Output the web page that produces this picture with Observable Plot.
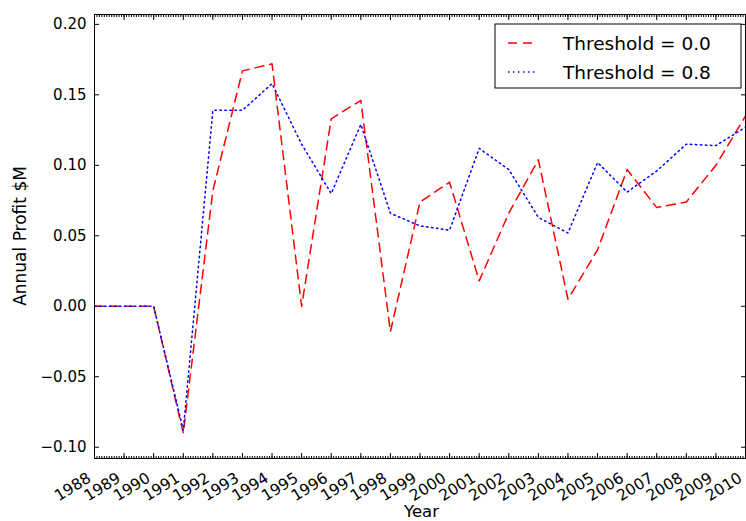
<!DOCTYPE html>
<html><head><meta charset="utf-8">
<script src="https://cdn.jsdelivr.net/npm/d3@7"></script>
<script src="https://cdn.jsdelivr.net/npm/@observablehq/plot@0.6"></script>
<style>body{margin:0;background:#fff;} svg{display:block}</style>
</head><body><div id="chart"></div>
<script>
const years = [1988,1989,1990,1991,1992,1993,1994,1995,1996,1997,1998,1999,2000,2001,2002,2003,2004,2005,2006,2007,2008,2009,2010];
const threshold00 = [0,0,0,-0.090,0.082,0.167,0.172,0.000,0.133,0.146,-0.018,0.074,0.088,0.018,0.066,0.104,0.005,0.040,0.097,0.070,0.074,0.100,0.135];
const threshold08 = [0,0,0,-0.088,0.139,0.139,0.158,0.115,0.080,0.129,0.066,0.057,0.054,0.112,0.097,0.063,0.052,0.102,0.081,0.096,0.115,0.114,0.127];
const seriesNames = ["Threshold = 0.0", "Threshold = 0.8"];
const yTicks = [-0.10,-0.05,0,0.05,0.10,0.15,0.20];
const xLabel = "Year";
const yLabel = "Annual Profit $M";

const rows0 = years.map((y,i)=>({year:y, value:threshold00[i], series:seriesNames[0]}));
const rows8 = years.map((y,i)=>({year:y, value:threshold08[i], series:seriesNames[1]}));
const minor = d3.range(0, (years[years.length-1]-years[0])*12+1).map(k => years[0] + k/12);

const W=746, H=521, ml=94, mr=1, mt=14, mb=63;
const redStyle = {stroke:"#ff0000", strokeWidth:1.5, strokeDasharray:"9,6"};
const blueStyle = {stroke:"#0000ff", strokeWidth:1.5, strokeDasharray:"1.5,3.5"};

const chart = Plot.plot({
  width:W, height:H, marginLeft:ml, marginRight:mr, marginTop:mt, marginBottom:mb,
  style:{fontFamily:"DejaVu Sans", fontSize:"15px", background:"white", color:"black", overflow:"visible"},
  x:{domain:[1988,2010]},
  y:{domain:[-0.108,0.207]},
  marks:[
    Plot.axisX(minor, {anchor:"bottom", tickSize:-2, tickFormat:()=>"", label:null}),
    Plot.axisX(minor, {anchor:"top", tickSize:-2, tickFormat:()=>"", label:null}),
    Plot.axisX(years, {anchor:"bottom", tickSize:-5, tickFormat:()=>"", label:null}),
    Plot.axisX(years, {anchor:"bottom", tickSize:0, tickPadding:18, tickRotate:-32, dx:-5, tickFormat:d=>String(d), label:null, fontSize:15.5}),
    Plot.axisX(years, {anchor:"top", tickSize:-5, tickFormat:()=>"", label:null}),
    Plot.axisY(yTicks, {anchor:"left", tickSize:-5, tickPadding:13, tickFormat:d3.format(".2f"), label:null, fontSize:15}),
    Plot.axisY(yTicks, {anchor:"right", tickSize:-5, tickFormat:()=>"", label:null}),
    Plot.line(rows0, {x:"year", y:"value", ...redStyle}),
    Plot.line(rows8, {x:"year", y:"value", ...blueStyle}),
    Plot.frame({stroke:"black", strokeWidth:1})
  ]
});
document.getElementById("chart").appendChild(chart);

const svg = d3.select(chart);
svg.append("text").attr("x", (ml + W - mr)/2 + 2).attr("y", 517).attr("text-anchor","middle")
  .style("font-family","DejaVu Sans").style("font-size","16.5px").text(xLabel);
svg.append("text").attr("transform", `translate(26,${(mt + H - mb)/2}) rotate(-90)`).attr("text-anchor","middle")
  .style("font-family","DejaVu Sans").style("font-size","17px").text(yLabel);

const lg = svg.append("g").style("font-family","DejaVu Sans").style("font-size","18.5px").attr("text-anchor","start");
lg.append("rect").attr("x",495).attr("y",24).attr("width",246).attr("height",64)
  .attr("fill","white").attr("stroke","black").attr("stroke-width",1);
[[redStyle, 43], [blueStyle, 72]].forEach(([s, y], i) => {
  lg.append("line").attr("x1",508).attr("x2",538).attr("y1",y).attr("y2",y)
    .attr("stroke",s.stroke).attr("stroke-width",s.strokeWidth).attr("stroke-dasharray",s.strokeDasharray);
  lg.append("text").attr("x",563).attr("y",y+6.5).attr("text-anchor","start").text(seriesNames[i]);
});
</script></body></html>
